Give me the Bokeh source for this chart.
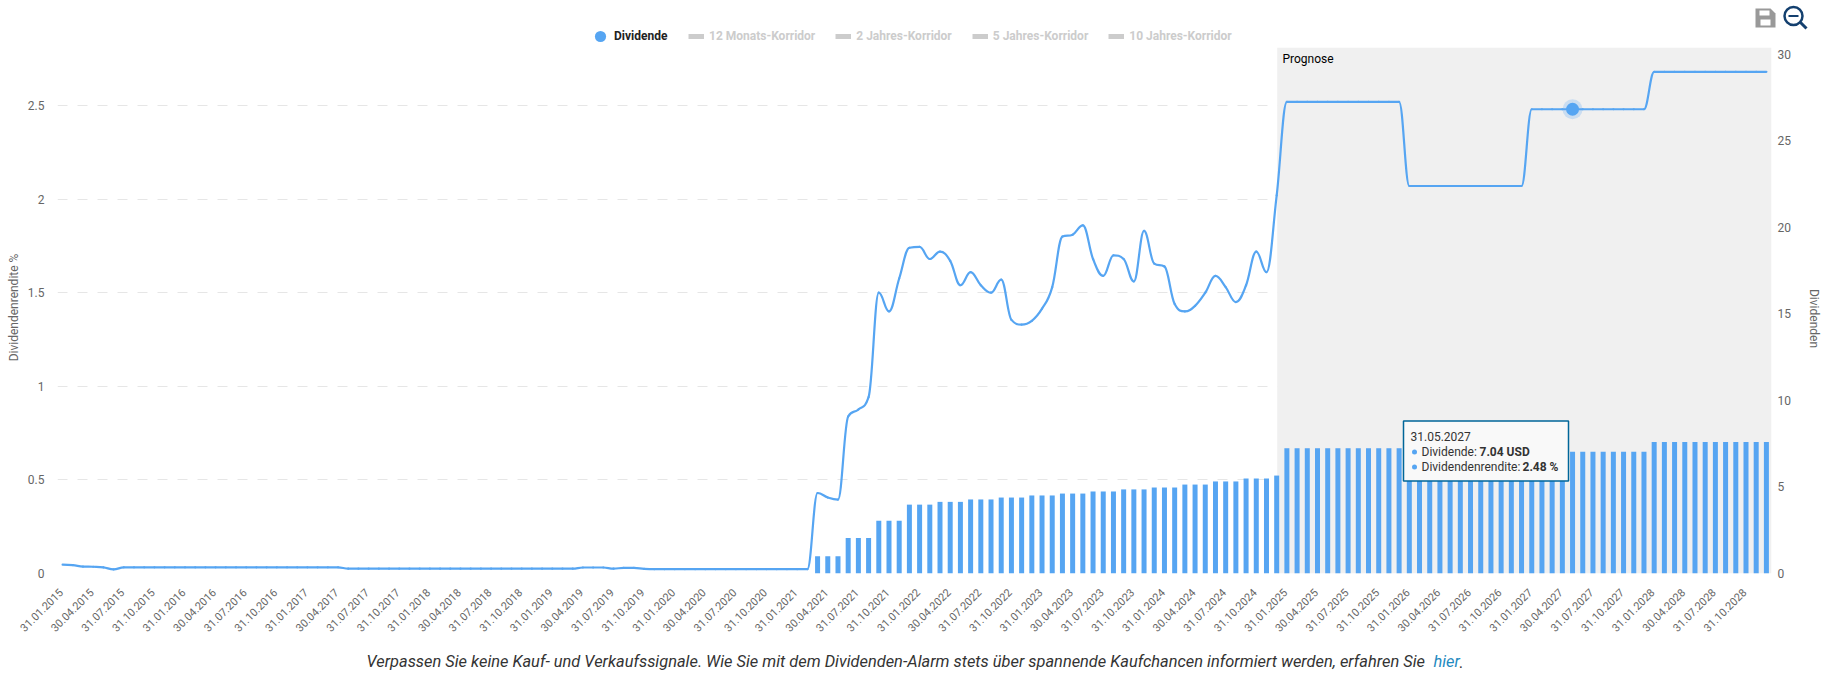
from bokeh.plotting import figure
from bokeh.layouts import column
from bokeh.models import Range1d, LinearAxis, FixedTicker, Legend, LegendItem, Label, BoxAnnotation
from bokeh.embed import file_html
from bokeh.resources import INLINE
import math

YEARS = list(range(2015, 2029))
TICK_LABELS = [f"{d}.{y}" for y in YEARS for d in ("31.01", "30.04", "31.07", "31.10")]

DIVIDENDS = [0.0] * 74 + [
    1.0, 1.0, 1.0, 2.05, 2.05, 2.05, 3.05, 3.05, 3.05, 3.98, 3.98, 3.98,
    4.14, 4.14, 4.14, 4.28, 4.28, 4.28, 4.39, 4.39, 4.39, 4.51, 4.51, 4.51,
    4.62, 4.62, 4.62, 4.74, 4.74, 4.74, 4.86, 4.86, 4.86, 4.97, 4.97, 4.97,
    5.14, 5.14, 5.14, 5.32, 5.32, 5.32, 5.49, 5.49, 5.49, 5.66,
] + [7.24] * 24 + [7.04] * 12 + [7.6] * 12

YIELDS = [
    0.047, 0.045, 0.037, 0.036, 0.033, 0.022, 0.033, 0.033, 0.033, 0.033, 0.033, 0.033,
    0.033, 0.033, 0.033, 0.033, 0.033, 0.033, 0.033, 0.033, 0.033, 0.033, 0.033, 0.033,
    0.033, 0.033, 0.033, 0.033, 0.026, 0.026, 0.026, 0.026, 0.026, 0.026, 0.026, 0.026,
    0.026, 0.026, 0.026, 0.026, 0.026, 0.026, 0.026, 0.026, 0.026, 0.026, 0.026, 0.026,
    0.026, 0.026, 0.026, 0.032, 0.032, 0.032, 0.026, 0.03, 0.03, 0.025, 0.023, 0.023,
    0.023, 0.023, 0.023, 0.023, 0.023, 0.023, 0.023, 0.023, 0.023, 0.023, 0.023, 0.023,
    0.023, 0.023,
    0.43, 0.406, 0.395, 0.839, 0.876, 0.942, 1.50, 1.40, 1.576, 1.74, 1.745, 1.68,
    1.72, 1.67, 1.54, 1.61, 1.54, 1.50, 1.57, 1.355, 1.33, 1.35, 1.415, 1.53,
    1.80, 1.81, 1.86, 1.68, 1.59, 1.70, 1.68, 1.56, 1.83, 1.655, 1.64, 1.44,
    1.40, 1.43, 1.50, 1.59, 1.53, 1.45, 1.54, 1.72, 1.61, 2.02,
] + [2.52] * 12 + [2.07] * 12 + [2.48] * 12 + [2.68] * 12

LEGEND_GREY = ["12 Monats-Korridor", "2 Jahres-Korridor", "5 Jahres-Korridor", "10 Jahres-Korridor"]
HOVER = 148
BLUE = "#56a5f2"
NAN = float("nan")

W, H = 1833, 673
F_L, F_T, F_R, F_B = 57.0, 47.0, 1771.0, 573.0   # frame edges in page pixels
XMIN, XMAX, YMAX, Y2MAX = -0.5, 167.5, 2.81, 30.4

def dx(px):
    return XMIN + (px - F_L) / (F_R - F_L) * (XMAX - XMIN)

def dy(py):
    return (F_B - py) / (F_B - F_T) * YMAX

p = figure(width=W, height=H, output_backend="svg", toolbar_location=None,
           x_range=Range1d(XMIN, XMAX), y_range=Range1d(0, YMAX), x_axis_type=None,
           min_border_left=int(F_L), min_border_right=int(W - F_R),
           min_border_top=int(F_T), min_border_bottom=int(H - F_B),
           background_fill_color="white", border_fill_color="white", frame_align=False)
p.outline_line_color = None
p.extra_y_ranges = {"div": Range1d(0, Y2MAX)}

# transparent figure over the whole page for everything that lies outside the plot frame;
# its x scale is the month index of the main plot, its y scale page pixels
c = figure(width=W, height=H, output_backend="svg", toolbar_location=None,
           x_range=Range1d(dx(0), dx(W)), y_range=Range1d(H, 0), x_axis_type=None, y_axis_type=None,
           min_border=0, background_fill_alpha=0, border_fill_alpha=0, margin=(-H, 0, 0, 0),
           frame_align=False)
c.outline_line_color = None
c.grid.visible = False

FONT = "Roboto"
def style_axis(ax):
    ax.axis_line_color = None
    ax.major_tick_line_color = None
    ax.minor_tick_line_color = None
    ax.major_label_text_font = FONT
    ax.major_label_text_font_size = "12px"
    ax.major_label_text_color = "#666666"

def label(fig, x, y, text, size="12px", style="normal", color="#666666", angle=0, align="left"):
    fig.add_layout(Label(x=x, y=y, text=text, text_font=FONT, text_font_size=size,
                         text_font_style=style, text_color=color, angle=angle,
                         text_align=align, text_baseline="middle", level="overlay"))

# x tick labels, slanted and ending at their month
tick_idx = list(range(0, 168, 3))
for i, t in zip(tick_idx, TICK_LABELS):
    label(c, i - 0.15, 590, t, size="11px", angle=math.pi / 4, align="right")

# left axis
ya = p.yaxis[0]
style_axis(ya)
ya.ticker = FixedTicker(ticks=[0, 0.5, 1, 1.5, 2, 2.5])
ya.major_label_overrides = {0: "0", 0.5: "0.5", 1: "1", 1.5: "1.5", 2: "2", 2.5: "2.5"}
ya.major_label_standoff = 7
p.ygrid.grid_line_color = "#e6e6e6"
p.ygrid.grid_line_dash = "10 10"
p.ygrid.grid_line_width = 1

# right axis
ra = LinearAxis(y_range_name="div", ticker=FixedTicker(ticks=[0, 5, 10, 15, 20, 25, 30]))
style_axis(ra)
ra.major_label_standoff = 0
p.add_layout(ra, "right")

label(c, dx(13), 307, "Dividendenrendite %", angle=math.pi / 2, align="center")
label(c, dx(1813), 318, "Dividenden", angle=-math.pi / 2, align="center")

# forecast band
p.add_layout(BoxAnnotation(left=dx(1276.7), right=XMAX, fill_color="#f0f0f0", fill_alpha=1,
                           line_color=None, level="underlay"))
label(p, dx(1282), dy(58.7), "Prognose", color="#000000")

# bars
xs = list(range(168))
p.vbar(x=xs, top=DIVIDENDS, width=0.49, y_range_name="div", fill_color=BLUE, line_color=None)

# spline (Highcharts-style control points) over the yield series
def controls(i):
    x, y = xs[i], YIELDS[i]
    if i == 0 or i == len(xs) - 1:
        return (x, y, x, y)
    lx, ly, nx, ny = xs[i - 1], YIELDS[i - 1], xs[i + 1], YIELDS[i + 1]
    lcx, lcy = (1.5 * x + lx) / 2.5, (1.5 * y + ly) / 2.5
    rcx, rcy = (1.5 * x + nx) / 2.5, (1.5 * y + ny) / 2.5
    corr = (rcy - lcy) * (rcx - x) / (rcx - lcx) + y - rcy
    lcy += corr
    rcy += corr
    if lcy > ly and lcy > y:
        lcy = max(ly, y); rcy = 2 * y - lcy
    elif lcy < ly and lcy < y:
        lcy = min(ly, y); rcy = 2 * y - lcy
    if rcy > ny and rcy > y:
        rcy = max(ny, y); lcy = 2 * y - rcy
    elif rcy < ny and rcy < y:
        rcy = min(ny, y); lcy = 2 * y - rcy
    return (lcx, lcy, rcx, rcy)

ctrl = [controls(i) for i in xs]
p.bezier(x0=xs[:-1], y0=YIELDS[:-1], x1=xs[1:], y1=YIELDS[1:],
         cx0=[k[2] for k in ctrl[:-1]], cy0=[k[3] for k in ctrl[:-1]],
         cx1=[k[0] for k in ctrl[1:]], cy1=[k[1] for k in ctrl[1:]],
         line_color=BLUE, line_width=2.2, line_cap="round")

# hovered point
p.scatter([HOVER], [YIELDS[HOVER]], size=20, fill_color=BLUE, fill_alpha=0.25, line_color=None)
p.scatter([HOVER], [YIELDS[HOVER]], size=13, fill_color=BLUE, line_color=None)

# legend
lead = c.scatter([NAN], [NAN], size=12, fill_color=BLUE, line_color=None)
greys = [c.line([NAN, NAN], [NAN, NAN], line_color="#cccccc", line_width=5) for _ in LEGEND_GREY]
def make_legend(items, color, x, bottom, spacing, standoff, glyph):
    return Legend(items=items, orientation="horizontal", location=(x, H - bottom),
                  border_line_color=None, background_fill_alpha=0, padding=0, margin=0,
                  spacing=spacing, glyph_width=glyph, glyph_height=glyph, label_standoff=standoff,
                  label_text_font=FONT, label_text_font_size="12px", label_text_font_style="bold",
                  label_text_color=color, label_height=16)
c.add_layout(make_legend([LegendItem(label="Dividende", renderers=[lead])], "#222222", 586, 50, 0, 0, 28), "center")
c.add_layout(make_legend([LegendItem(label=t, renderers=[g]) for t, g in zip(LEGEND_GREY, greys)],
                         "#cccccc", 688, 44, 20, 5, 16), "center")

# tooltip
p.add_layout(BoxAnnotation(left=dx(1403), right=dx(1568), top=dy(420.5), bottom=dy(480.5),
                           fill_color="#f9f9f9", fill_alpha=1, line_color="#006699", line_alpha=1,
                           line_width=1.5, level="overlay"))
def tip(px, py, text, bold=False):
    label(p, dx(px), dy(py), text, style="bold" if bold else "normal", color="#333333")
tip(1410, 436, "31.05.2027")
tip(1421, 451, "Dividende:")
tip(1479, 451, f"{DIVIDENDS[HOVER]:.2f} USD", True)
tip(1421, 466, "Dividendenrendite:")
tip(1522, 466, f"{YIELDS[HOVER]:.2f} %", True)
for py in (451.5, 466.5):
    p.add_layout(BoxAnnotation(left=dx(1411.5), right=dx(1416.5), top=dy(py - 2.5), bottom=dy(py + 2.5),
                               fill_color=BLUE, fill_alpha=1, line_color=None, border_radius=3, level="overlay"))

# caption
label(c, dx(366), 661, "Verpassen Sie keine Kauf- und Verkaufssignale. Wie Sie mit dem "
      "Dividenden-Alarm stets über spannende Kaufchancen informiert werden, erfahren Sie",
      size="16.4px", style="italic", color="#333333")
label(c, dx(1433), 661, "hier", size="16.4px", style="italic", color="#1f8ac0")
label(c, dx(1459), 661, ".", size="16.4px", style="italic", color="#333333")

# export / zoom icons
def poly(pts, fill):
    c.patch([dx(a - 2) for a, _ in pts], [b for _, b in pts], fill_color=fill, line_color=None)
poly([(1757, 8), (1772, 8), (1777, 13), (1777, 27), (1757, 27)], "#999999")
poly([(1761, 10), (1771, 10), (1771, 15), (1761, 15)], "#ffffff")
poly([(1762, 19), (1772, 19), (1772, 25), (1762, 25)], "#ffffff")
c.scatter([dx(1793)], [15.5], size=18, fill_color=None, line_color="#14406f", line_width=2.5)
c.line([dx(1800), dx(1806)], [22, 28], line_color="#14406f", line_width=3)
c.line([dx(1788), dx(1798)], [15.5, 15.5], line_color="#14406f", line_width=2)

open("out.html", "w").write(file_html(column(p, c, spacing=0), INLINE))
